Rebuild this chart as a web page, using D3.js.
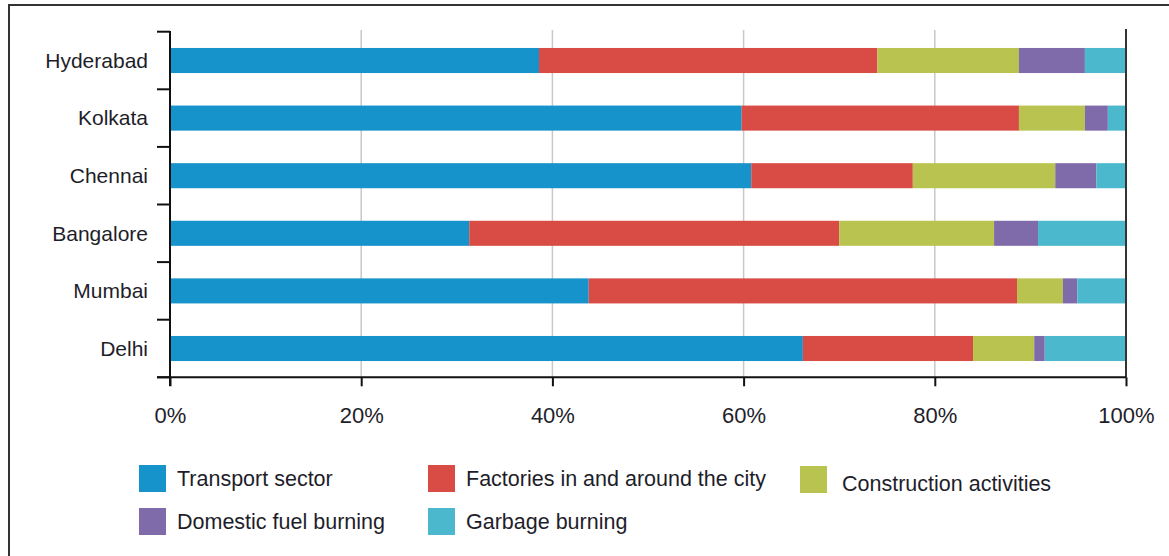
<!DOCTYPE html>
<html>
<head>
<meta charset="utf-8">
<script src="https://cdn.jsdelivr.net/npm/d3@7"></script>
<style>
  html, body { margin: 0; padding: 0; background: #fff; }
  svg { display: block; font-family: Arial, "Liberation Sans", sans-serif; }
</style>
</head>
<body>
<svg id="chart" width="1169" height="556"></svg>
<script>
const cities = ["Hyderabad", "Kolkata", "Chennai", "Bangalore", "Mumbai", "Delhi"];
const seriesNames = ["Transport sector", "Factories in and around the city", "Construction activities", "Domestic fuel burning", "Garbage burning"];
const seriesColors = ["#1793CB", "#D94C45", "#B8C44F", "#7F6BAA", "#4BB8CE"];
const transport    = [38.6, 59.8, 60.8, 31.3, 43.8, 66.2];
const factories    = [35.4, 29.0, 16.9, 38.7, 44.8, 17.8];
const construction = [14.8,  6.9, 14.9, 16.2,  4.8,  6.4];
const domestic     = [ 6.9,  2.4,  4.3,  4.6,  1.5,  1.1];
const garbage      = [ 4.3,  1.9,  3.1,  9.2,  5.1,  8.5];
const xTicks = [0, 20, 40, 60, 80, 100];

const svg = d3.select("#chart");
const values = [transport, factories, construction, domestic, garbage];
const rows = cities.map((c, i) => {
  const r = { city: c };
  seriesNames.forEach((s, k) => r[s] = values[k][i]);
  return r;
});

const x = d3.scaleLinear().domain([0, 100]).range([170, 1126]);
const y = d3.scaleBand().domain(cities).range([31.7, 377.3]).paddingInner(0.565).paddingOuter(0.2825);

// frame
svg.append("rect").attr("x", 9).attr("y", 5).attr("width", 1175).attr("height", 570)
  .attr("fill", "none").attr("stroke", "#333").attr("stroke-width", 2);

// gridlines
svg.append("g").selectAll("line").data(xTicks.filter(t => t > 0 && t < 100)).join("line")
  .attr("x1", d => x(d)).attr("x2", d => x(d))
  .attr("y1", 30).attr("y2", 377.3)
  .attr("stroke", "#c8c8c8").attr("stroke-width", 1.5);

// stacked bars
const stack = d3.stack().keys(seriesNames);
const stacked = stack(rows);
svg.append("g").selectAll("g").data(stacked).join("g")
  .attr("fill", (d, i) => seriesColors[i])
  .selectAll("rect").data(d => d).join("rect")
  .attr("x", d => x(d[0]))
  .attr("width", d => x(d[1]) - x(d[0]))
  .attr("y", d => y(d.data.city))
  .attr("height", y.bandwidth());

// right 100% line
svg.append("line").attr("x1", x(100)).attr("x2", x(100)).attr("y1", 29).attr("y2", 377.3)
  .attr("stroke", "#333").attr("stroke-width", 2);

// x axis
const xAxis = d3.axisBottom(x).tickValues(xTicks).tickFormat(d => d + "%").tickSize(9).tickPadding(21);
const gx = svg.append("g").attr("transform", "translate(0,377.3)").call(xAxis);
gx.select(".domain").remove();
gx.append("line").attr("x1", 157).attr("x2", x(100)).attr("y1", 0).attr("y2", 0)
  .attr("stroke", "#111").attr("stroke-width", 2);
gx.selectAll(".tick line").attr("stroke", "#111").attr("stroke-width", 2);
gx.selectAll(".tick text").attr("fill", "#1e1e2a").style("font-size", "22px")
  .style("font-family", "Arial, 'Liberation Sans', sans-serif");

// y axis
const boundaries = cities.map(c => y(c) - y.step() * y.paddingInner() / 2);
boundaries.push(377.3);
const gy = svg.append("g");
gy.append("line").attr("x1", 170).attr("x2", 170).attr("y1", 31).attr("y2", 386)
  .attr("stroke", "#111").attr("stroke-width", 2);
gy.selectAll("line.tk").data(boundaries).join("line").attr("class", "tk")
  .attr("x1", 157).attr("x2", 170).attr("y1", d => d).attr("y2", d => d)
  .attr("stroke", "#111").attr("stroke-width", 2);
gy.selectAll("text").data(cities).join("text")
  .attr("x", 148).attr("y", d => y(d) + y.bandwidth() / 2)
  .attr("dy", "0.35em").attr("text-anchor", "end")
  .attr("fill", "#1e1e2a").style("font-size", "21px")
  .text(d => d);

// legend
const legendPos = [
  { x: 139, y: 465, dy: 0 },
  { x: 428, y: 465, dy: 0 },
  { x: 800, y: 466, dy: 4 },
  { x: 139, y: 508, dy: 0 },
  { x: 428, y: 508, dy: 0 }
];
const lg = svg.append("g").selectAll("g").data(seriesNames).join("g")
  .attr("transform", (d, i) => `translate(${legendPos[i].x},${legendPos[i].y})`);
lg.append("rect").attr("width", 27).attr("height", 27).attr("fill", (d, i) => seriesColors[i]);
lg.append("text").attr("x", (d, i) => i === 2 ? 42 : 38).attr("y", (d, i) => 13 + legendPos[i].dy)
  .attr("dy", "0.35em").attr("fill", "#1e1e2a").style("font-size", "21.5px")
  .text(d => d);
</script>
</body>
</html>
